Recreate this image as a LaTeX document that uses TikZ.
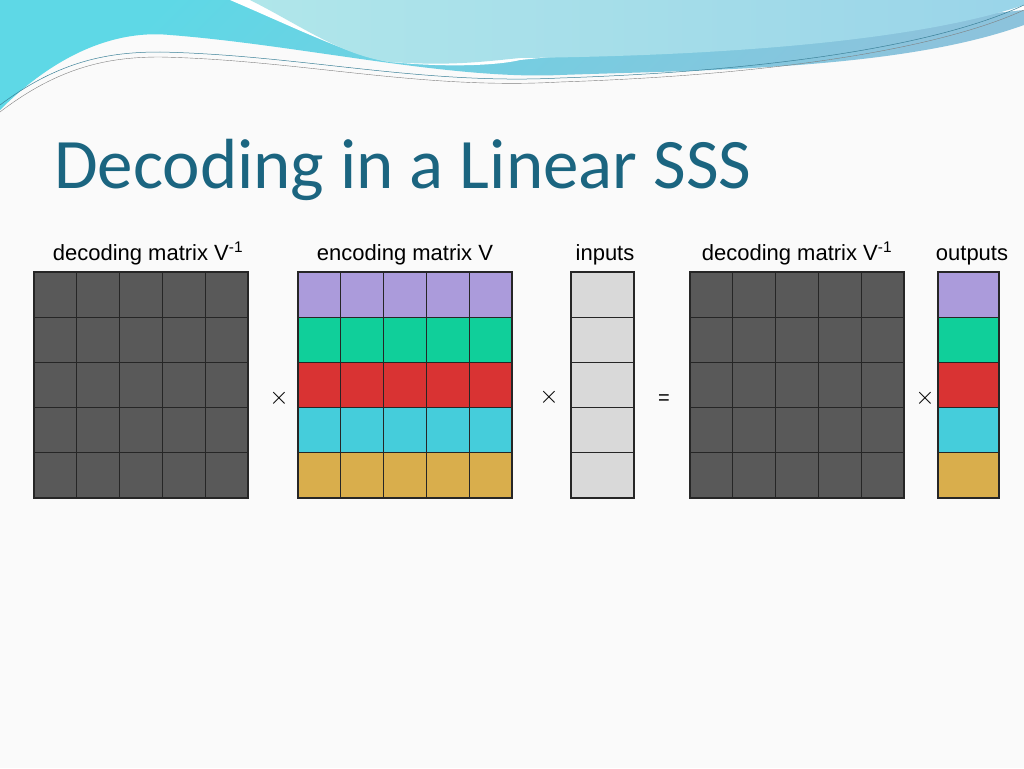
\documentclass[tikz,border=0pt]{standalone}
\usepackage{fontspec}
\setmainfont{Liberation Sans}
\newfontfamily\titlefont{Carlito}
\begin{document}
\begin{tikzpicture}[x=1pt,y=-1pt,
  cellbox/.style={draw=black!85,line width=1.3pt},
  lbl/.style={font=\fontsize{22}{26}\selectfont,anchor=base},
  op/.style={font=\fontsize{24}{26}\selectfont}]
\definecolor{dk}{HTML}{595959}\definecolor{pu}{HTML}{AB9BDB}\definecolor{gr}{HTML}{10CF9A}
\definecolor{rd}{HTML}{D93333}\definecolor{cy}{HTML}{45CDDB}\definecolor{go}{HTML}{D9AE4C}
\definecolor{lg}{HTML}{D9D9D9}\definecolor{tt}{HTML}{1B6580}
\definecolor{w1}{HTML}{8CC3DC}\definecolor{w2}{HTML}{5ED8E6}\definecolor{w3}{HTML}{B0E6EA}\definecolor{w4}{HTML}{56B8DA}
\useasboundingbox (0,0) rectangle (1024,768);
\fill[white!96!gray] (0,0) rectangle (1024,768);
% header waves
\shade[left color=w2,right color=w1,shading angle=45] (0,0) -- (0,110) .. controls (60,50) and (120,30) .. (170,35) .. controls (300,45) and (450,80) .. (560,75) .. controls (700,70) and (900,70) .. (1024,25) -- (1024,0) -- cycle;
\fill[white] (230,0) .. controls (300,30) and (350,55) .. (390,62) .. controls (450,68) and (500,65) .. (520,60) -- (1024,10) -- (1024,0) -- cycle;
\shade[left color=w3,right color=w4!60] (250,0) .. controls (300,25) and (340,55) .. (390,62) .. controls (450,66) and (480,62) .. (520,58) .. controls (800,55) and (950,30) .. (1024,5) -- (1024,0) -- cycle;
\draw[w4!70!black,line width=0.5pt] (0,105) .. controls (60,60) and (110,52) .. (160,52) .. controls (300,55) and (420,85) .. (560,78) .. controls (800,70) and (950,40) .. (1024,5);
\draw[gray,line width=0.4pt] (0,112) .. controls (60,66) and (110,57) .. (160,57) .. controls (300,60) and (420,90) .. (560,82) .. controls (800,74) and (950,44) .. (1024,10);
\node[font=\titlefont\fontsize{71}{74}\selectfont,text=tt,anchor=base west,inner sep=0] (title) at (54,188) {Decoding in a Linear SSS};
% labels
\node[lbl] (l1) at (148,260) {decoding matrix V\textsuperscript{-1}};
\node[lbl] (l2) at (405,260) {encoding matrix V};
\node[lbl] (l3) at (605,260) {inputs};
\node[lbl] (l4) at (797,260) {decoding matrix V\textsuperscript{-1}};
\node[lbl] (l5) at (972,260) {outputs};
\def\cw{42.8}\def\ch{45.2}
\foreach \xo in {34,690}{
  \foreach \i in {0,...,4}{\foreach \j in {0,...,4}{
    \path[cellbox,fill=dk] (\xo+\i*\cw,272+\j*\ch) rectangle ++(\cw,\ch);}}}
\foreach \c [count=\j from 0] in {pu,gr,rd,cy,go}{
  \foreach \i in {0,...,4}{\path[cellbox,fill=\c] (298+\i*\cw,272+\j*\ch) rectangle ++(\cw,\ch);}
  \path[cellbox,fill=lg] (571,272+\j*\ch) rectangle ++(63,\ch);
  \path[cellbox,fill=\c] (938,272+\j*\ch) rectangle ++(61,\ch);}
\node[op] (o1) at (279,398) {$\times$};
\node[op] (o2) at (549,397) {$\times$};
\node[op,font=\fontsize{20}{22}\selectfont] (o3) at (664,400) {=};
\node[op] (o4) at (925,398) {$\times$};
\end{tikzpicture}
\end{document}
